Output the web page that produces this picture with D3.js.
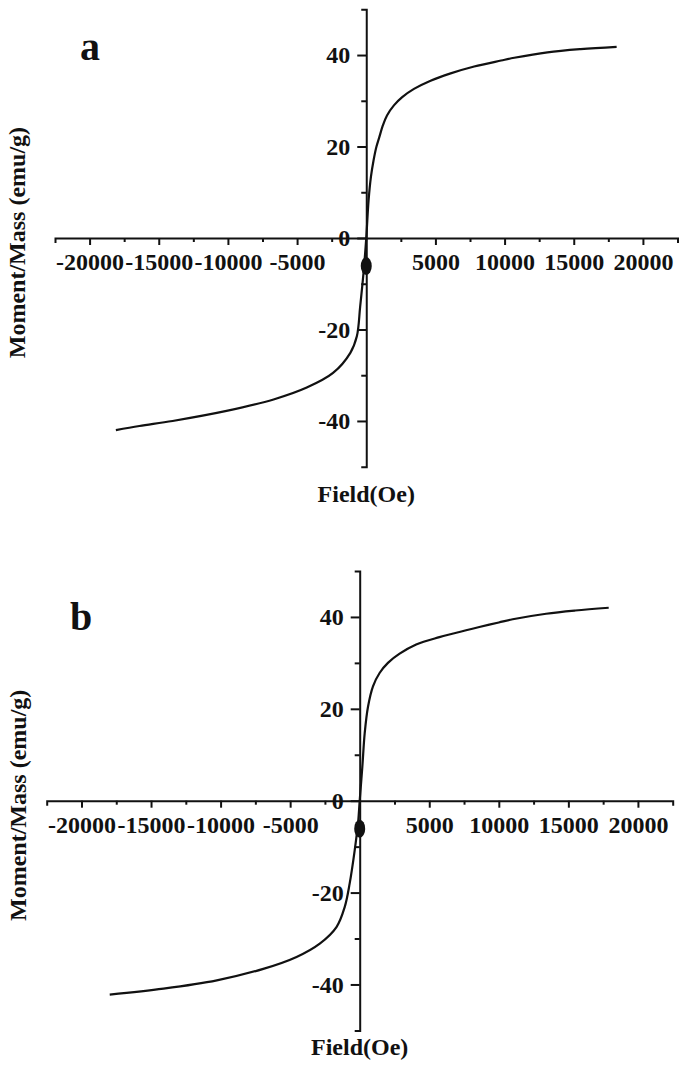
<!DOCTYPE html>
<html>
<head>
<meta charset="utf-8">
<script src="https://cdn.jsdelivr.net/npm/d3@7"></script>
<style>
body { margin: 0; background: #fff; }
svg { display: block; }
text { font-family: "Liberation Serif", "Times New Roman", Times, serif; font-weight: bold; fill: #111; }
</style>
</head>
<body>
<script>
const w = 685;
const h = 1070;
const serif = "'Liberation Serif', 'Times New Roman', Times, serif";

// panel a : field (Oe) vs moment/mass (emu/g)
const fieldA = [-18100, -16400, -14000, -10100, -6700, -4300, -2400, -1150, -680, -440, -200, 0,
  170, 340, 530, 730, 950, 1200, 1500, 2000, 2600, 3450, 4650, 6100, 7800, 9750, 10700, 13100, 15500, 18100];
const momentA = [-42.0, -41.1, -40.0, -37.8, -35.3, -32.7, -29.5, -25.1, -21.5, -15.0, -7.7, 0,
  8.3, 13.4, 17.0, 19.9, 22.1, 24.6, 26.8, 29.0, 30.8, 32.6, 34.4, 36.0, 37.5, 38.8, 39.4, 40.6, 41.3, 41.8];

// panel b
const fieldB = [-17970, -14100, -10270, -6930, -4540, -2870, -1670, -1075, -720, -360, -120, 0,
  190, 360, 600, 955, 1430, 2030, 2870, 4060, 5730, 7650, 8600, 10000, 11000, 13400, 15500, 17900];
const momentB = [-42.2, -40.9, -39.1, -36.6, -34.0, -31.1, -27.5, -23.1, -18.0, -10.8, -4.9, 0,
  7.4, 14.7, 20.5, 24.9, 27.8, 30.0, 32.0, 34.0, 35.6, 37.1, 37.8, 38.8, 39.5, 40.7, 41.4, 42.0];

const fieldTicks = [-20000, -15000, -10000, -5000, 5000, 10000, 15000, 20000];
const fieldMinor = [-17500, -12500, -7500, -2500, 2500, 7500, 12500, 17500];
const momentTicks = [-40, -20, 0, 20, 40];
const momentMinor = [-30, -10, 10, 30];

const svg = d3.select("body")
  .append("svg")
  .attr("width", w)
  .attr("height", h);

function drawPanel(field, moment, letter, box) {
  const x = d3.scaleLinear().domain([-22500, 22500]).range([box.left, box.right]);
  const y = d3.scaleLinear().domain([-50, 50]).range([box.bottom, box.top]);
  const g = svg.append("g");

  // minor ticks first
  g.append("g")
    .attr("transform", "translate(0," + y(0) + ")")
    .call(d3.axisBottom(x).tickValues(fieldMinor).tickSize(4).tickFormat(""))
    .call(s => s.select(".domain").remove());
  g.append("g")
    .attr("transform", "translate(" + x(0) + ",0)")
    .call(d3.axisLeft(y).tickValues(momentMinor).tickSize(5).tickFormat(""))
    .call(s => s.select(".domain").remove());

  const xa = g.append("g")
    .attr("transform", "translate(0," + y(0) + ")")
    .call(d3.axisBottom(x).tickValues(fieldTicks).tickSize(7).tickSizeOuter(5).tickFormat(d => String(d)));
  xa.selectAll("text")
    .attr("y", 15);

  const ya = g.append("g")
    .attr("transform", "translate(" + x(0) + ",0)")
    .call(d3.axisLeft(y).tickValues(momentTicks).tickSize(9).tickSizeOuter(5).tickFormat(d => String(d)));
  ya.selectAll("text")
    .attr("x", -16);

  g.selectAll("g").attr("font-family", serif);
  g.selectAll(".domain, .tick line")
    .attr("stroke", "#111")
    .attr("stroke-width", 2);
  g.selectAll(".tick text")
    .attr("font-size", 24)
    .attr("font-weight", "bold")
    .attr("fill", "#111");

  const line = d3.line()
    .x((d, i) => x(field[i]))
    .y((d, i) => y(moment[i]))
    .curve(d3.curveCatmullRom.alpha(0.5));

  g.append("path")
    .datum(moment)
    .attr("d", line)
    .attr("fill", "none")
    .attr("stroke", "#111")
    .attr("stroke-width", 2.2);

  // blob where the curve crosses the "0" label
  g.append("ellipse")
    .attr("cx", x(0))
    .attr("cy", y(0) + 28)
    .attr("rx", 5.5)
    .attr("ry", 9)
    .attr("fill", "#111");

  g.append("text")
    .attr("x", x(0))
    .attr("y", box.xTitle)
    .attr("text-anchor", "middle")
    .attr("font-size", 24)
    .text("Field(Oe)");

  g.append("text")
    .attr("transform", "translate(" + box.yTitleX + "," + y(-1) + ") rotate(-90)")
    .attr("text-anchor", "middle")
    .attr("font-size", 24)
    .text("Moment/Mass (emu/g)");

  g.append("text")
    .attr("x", box.letterX)
    .attr("y", box.letterY)
    .attr("text-anchor", "middle")
    .attr("font-size", 40)
    .text(letter);
}

drawPanel(fieldA, momentA, "a",
  {left: 55, right: 677.5, top: 9.3, bottom: 466.7, xTitle: 502, yTitleX: 25, letterX: 90, letterY: 60});
drawPanel(fieldB, momentB, "b",
  {left: 46.7, right: 672.7, top: 571, bottom: 1030.4, xTitle: 1055, yTitleX: 26, letterX: 81, letterY: 630});
</script>
</body>
</html>
